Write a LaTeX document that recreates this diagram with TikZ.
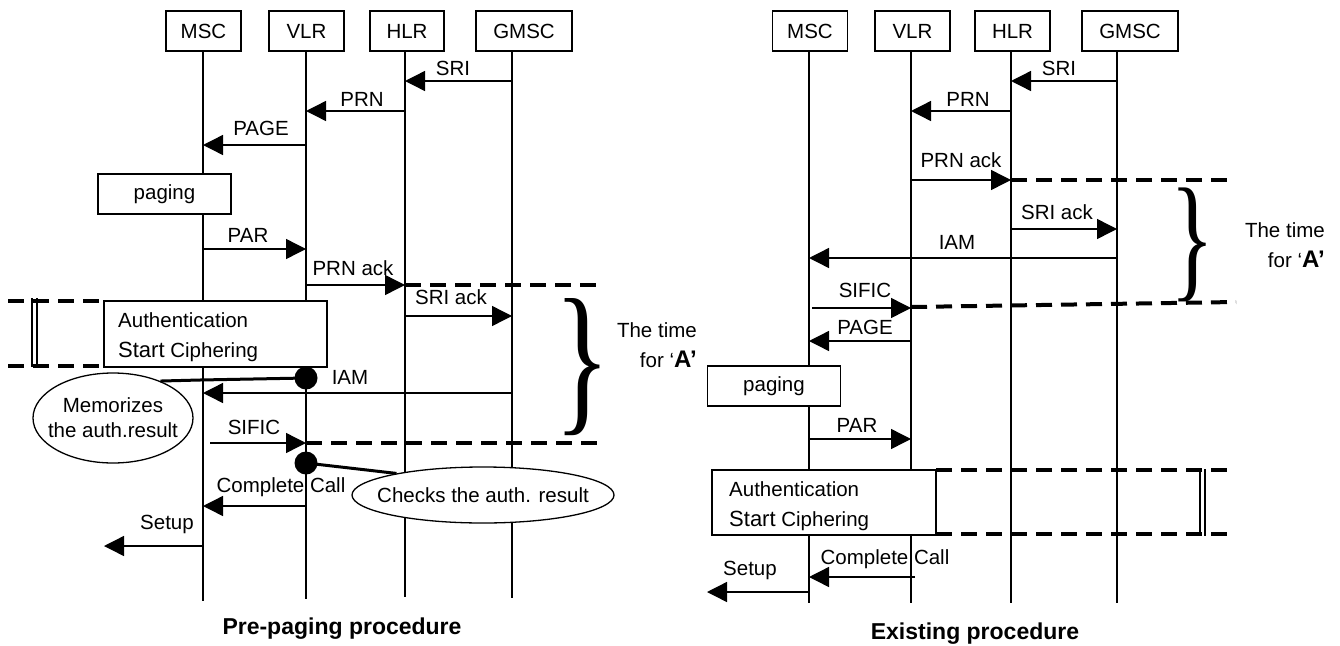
\documentclass[tikz,border=0pt]{standalone}
\usepackage{fontspec}
\setmainfont{Liberation Sans}
\newfontfamily\bracefont{Liberation Serif}
\usetikzlibrary{arrows.meta,shapes.geometric}
\newcommand\lbl{\fontsize{20.5}{25}\selectfont}
\newcommand\ttl{\fontsize{23}{27}\selectfont\bfseries}
\newcommand\bigA{\fontsize{24}{28}\selectfont\bfseries}
\newcommand\zb[1]{\makebox[0pt][c]{#1}}
\begin{document}
\begin{tikzpicture}[x=1pt,y=-1pt,
  ent/.style={draw,fill=white,line width=1.3pt,minimum height=40pt,inner sep=0pt,font=\lbl},
  life/.style={line width=1.4pt},
  msg/.style={line width=1.4pt,-{Triangle[length=20pt,width=20pt]}},
  lbl/.style={inner sep=0pt,font=\lbl,anchor=base},
  boxx/.style={draw,fill=white,line width=1.3pt,inner sep=0pt},
  dashln/.style={line width=4pt,dash pattern=on 16pt off 9pt},
  dbl/.style={line width=1.3pt},
  note/.style={ellipse,draw,fill=white,line width=1.3pt,inner sep=0pt,font=\lbl,align=center},
  blob/.style={circle,fill=black,inner sep=0pt,minimum size=23pt},
  link/.style={line width=3pt},
  ttlst/.style={inner sep=0pt,font=\ttl,anchor=base},
  brc/.style={inner sep=0pt,anchor=north west},
]
\useasboundingbox (0,0) rectangle (1340,645);

% ================= LEFT: Pre-paging procedure =================
\node[ent,minimum width=75pt] (aM) at (203.5,31) {MSC};
\node[ent,minimum width=75pt] (aV) at (306.5,31) {VLR};
\node[ent,minimum width=74pt] (aH) at (407,31) {HLR};
\node[ent,minimum width=96pt] (aG) at (524,31) {GMSC};
\coordinate (LM) at (203,51);
\coordinate (LV) at (306,51);
\coordinate (LH) at (405,51);
\coordinate (LG) at (512,51);
\draw[life] (LM) -- (LM |- 0,601);
\draw[life] (LV) -- (LV |- 0,599);
\draw[life] (LH) -- (LH |- 0,597);
\draw[life] (LG) -- (LG |- 0,598);

% dashed time window lines
\draw[dashln] (LH |- 0,285) -- (600,285);
\draw[dashln] (LV |- 0,443) -- (600,443);
\draw[dashln] (8,301) -- (104,301);
\draw[dashln] (8,366) -- (104,366);
\draw[dbl] (32,298) -- (32,367);
\draw[dbl] (37,298) -- (37,367);

% messages
\draw[msg] (LG |- 0,81) -- (LH |- 0,81);
\node[lbl] (tSRI) at (453,75.5) {SRI};
\draw[msg] (LH |- 0,111) -- (LV |- 0,111);
\node[lbl] (tPRN) at (362,106.5) {PRN};
\draw[msg] (LV |- 0,145) -- (LM |- 0,145);
\node[lbl] (tPAGE) at (261,135.5) {PAGE};
\node[boxx,minimum width=133pt,minimum height=40pt,font=\lbl] (pg) at (164.5,194) {paging};
\draw[msg] (LM |- 0,249) -- (LV |- 0,249);
\node[lbl] (tPAR) at (248,242.5) {PAR};
\draw[msg] (LV |- 0,285) -- (LH |- 0,285);
\node[lbl] (tPRNa) at (353,275.5) {PRN ack};
\draw[msg] (LH |- 0,316) -- (LG |- 0,316);
\node[lbl] (tSRIa) at (451,304.5) {SRI ack};
\node[boxx,minimum width=223pt,minimum height=66pt] (au) at (215.5,334) {};
\node[lbl,anchor=base west] (au1) at (118,327) {Authentication};
\node[lbl,anchor=base west] (au2) at (118,357) {{\fontsize{22}{25}\selectfont Start} Ciphering};
\draw[msg] (LG |- 0,393) -- (LM |- 0,393);
\node[lbl] (tIAM) at (350,384.5) {IAM};
\draw[msg] ([xshift=7pt]LM |- 0,443) -- (LV |- 0,443);
\node[lbl] (tSIFIC) at (254,434.5) {SIFIC};
\draw[msg] (LV |- 0,506) -- (LM |- 0,506);
\node[lbl] (tCC) at (281,492.5) {Complete Call};
\coordinate (LSe) at (104,546);
\draw[msg] (LM |- 0,546) -- (LSe);
\node[lbl] (tSetup) at (167,529.5) {Setup};

% notes
\node[note,minimum width=160pt,minimum height=90pt] (mem) at (113,418) {\zb{Memorizes}\\\zb{the auth.result}};
\node[note,minimum width=262pt,minimum height=56pt] (chk) at (483,495) {\zb{Checks the auth. result}};
\node[blob] (d1) at (306,378) {};
\node[blob] (d2) at (306,463) {};
\draw[link] (d1.center) -- (200,380) .. controls (180,380) .. (mem.38);
\draw[link] (d2.center) -- (chk.166);

% brace & time
\node[brc] (brL) at (554,298) {\resizebox*{56pt}{137pt}{\bracefont\}}};
\node[lbl,anchor=base east] (tmL1) at (697,337.5) {The time};
\node[lbl,anchor=base east] (tmL2) at (697,367.5) {for ‘{\bigA A’}};

\node[ttlst] (ttlL) at (342,634) {Pre-paging procedure};

% ================= RIGHT: Existing procedure =================
\node[ent,minimum width=75pt] (bM) at (810,31) {MSC};
\node[ent,minimum width=75pt] (bV) at (912.5,31) {VLR};
\node[ent,minimum width=75pt] (bH) at (1012.5,31) {HLR};
\node[ent,minimum width=96pt] (bG) at (1130,31) {GMSC};
\coordinate (RM) at (809,51);
\coordinate (RV) at (911,51);
\coordinate (RH) at (1011,51);
\coordinate (RG) at (1117,51);
\draw[life] (RM) -- (RM |- 0,603);
\draw[life] (RV) -- (RV |- 0,603);
\draw[life] (RH) -- (RH |- 0,603);
\draw[life] (RG) -- (RG |- 0,603);

\draw[dashln] (RH |- 0,180) -- (1230,180);
\draw[dashln] (RV |- 0,307) -- (1236,302);
\draw[dashln] (936,470) -- (1227,470);
\draw[dashln] (936,534) -- (1227,534);
\draw[dbl] (1200,469) -- (1200,536);
\draw[dbl] (1205,469) -- (1205,536);

\draw[msg] (RG |- 0,81) -- (RH |- 0,81);
\node[lbl] (uSRI) at (1059,75.5) {SRI};
\draw[msg] (RH |- 0,111) -- (RV |- 0,111);
\node[lbl] (uPRN) at (968,106.5) {PRN};
\draw[msg] (RV |- 0,180) -- (RH |- 0,180);
\node[lbl] (uPRNa) at (961,167.5) {PRN ack};
\draw[msg] (RH |- 0,229) -- (RG |- 0,229);
\node[lbl] (uSRIa) at (1057,219.5) {SRI ack};
\draw[msg] (RG |- 0,258) -- (RM |- 0,258);
\node[lbl] (uIAM) at (957,249.5) {IAM};
\draw[msg] ([xshift=3pt]RM |- 0,308) -- (RV |- 0,308);
\node[lbl] (uSIFIC) at (865,297.5) {SIFIC};
\draw[msg] (RV |- 0,341) -- (RM |- 0,341);
\node[lbl] (uPAGE) at (865,334.5) {PAGE};
\node[boxx,minimum width=133pt,minimum height=40pt,font=\lbl] (pg2) at (774,386) {paging};
\draw[msg] (RM |- 0,439) -- (RV |- 0,439);
\node[lbl] (uPAR) at (857,432.5) {PAR};
\node[boxx,minimum width=224pt,minimum height=65pt] (au2b) at (824,502.5) {};
\node[lbl,anchor=base west] (bu1) at (729,496.5) {Authentication};
\node[lbl,anchor=base west] (bu2) at (729,526.5) {{\fontsize{22}{25}\selectfont Start} Ciphering};
\draw[msg] ([xshift=4pt]RV |- 0,577) -- (RM |- 0,577);
\node[lbl] (uCC) at (885,564.5) {Complete Call};
\coordinate (RSe) at (707,592);
\draw[msg] (RM |- 0,592) -- (RSe);
\node[lbl] (uSetup) at (750,575.5) {Setup};

\node[brc] (brR) at (1170,188) {\resizebox*{44pt}{114pt}{\bracefont\}}};
\node[lbl,anchor=base east] (tmR1) at (1325,237) {The time};
\node[lbl,anchor=base east] (tmR2) at (1325,267) {for ‘{\bigA A’}};

\node[ttlst] (ttlR) at (975,639) {Existing procedure};
\end{tikzpicture}
\end{document}
